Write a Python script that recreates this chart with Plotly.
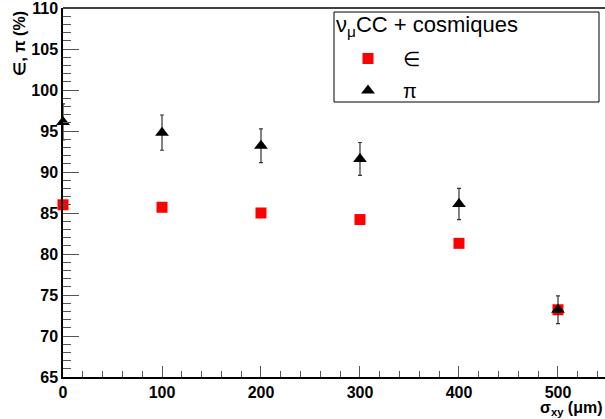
import plotly.graph_objects as go

sigma_xy = [0, 100, 200, 300, 400, 500]
eff = [86.0, 85.7, 85.0, 84.2, 81.3, 73.2]
pur = [96.1, 94.8, 93.2, 91.6, 86.1, 73.2]
pur_err = [2.2, 2.15, 2.05, 2.0, 1.9, 1.7]

FONT = "Liberation Sans, Arial, Helvetica, sans-serif"

fig = go.Figure()
fig.add_trace(go.Scatter(
    x=sigma_xy, y=eff, mode="markers", name="∈", legendgroup="a",
    marker=dict(symbol="square", size=11, color="#ff0000", line=dict(width=0)),
    cliponaxis=False,
))
fig.add_trace(go.Scatter(
    x=sigma_xy, y=pur, mode="markers", name="π", legendgroup="b",
    marker=dict(symbol="triangle-up", size=12, color="black", line=dict(width=0)),
    error_y=dict(type="data", array=pur_err, visible=True, color="#333333", thickness=1.2, width=2),
    cliponaxis=False,
))

fig.update_layout(
    width=605, height=419,
    margin=dict(l=63, r=0, t=8, b=42, autoexpand=False),
    paper_bgcolor="white", plot_bgcolor="white",
    showlegend=True,
    legend=dict(
        x=(333 - 63) / 542, y=(377 - 39) / 369, xanchor="left", yanchor="top",
        bgcolor="rgba(0,0,0,0)", borderwidth=0,
        font=dict(family=FONT, size=20, color="black"),
        itemwidth=60, tracegroupgap=3,
    ),
    xaxis=dict(
        range=[0, 547.5], showgrid=False, zeroline=False, automargin=False,
        showline=True, linecolor="black", linewidth=1.5,
        tickmode="array", tickvals=sigma_xy, ticktext=[str(v) for v in sigma_xy],
        ticks="inside", ticklen=11, tickcolor="#555555", tickwidth=1,
        tickfont=dict(family=FONT, size=16, color="black", weight="bold"),
        ticklabeloverflow="allow",
        minor=dict(dtick=20, tick0=0, ticks="inside", ticklen=6, tickcolor="#555555", tickwidth=1),
    ),
    yaxis=dict(
        range=[65, 110], showgrid=False, zeroline=False, automargin=False,
        showline=True, linecolor="black", linewidth=1.5,
        tickmode="array", tickvals=[65, 70, 75, 80, 85, 90, 95, 100, 105, 110],
        ticks="inside", ticklen=16, tickcolor="#555555", tickwidth=1,
        tickfont=dict(family=FONT, size=16, color="black", weight="bold"),
        ticklabeloverflow="allow",
        minor=dict(dtick=1, tick0=65, ticks="inside", ticklen=8, tickcolor="#555555", tickwidth=1),
    ),
    shapes=[
        dict(type="line", xref="paper", yref="paper", x0=0, x1=1, y0=1, y1=1,
             line=dict(color="black", width=1.5)),
        dict(type="rect", xref="paper", yref="paper",
             x0=(334 - 63) / 542, x1=(599 - 63) / 542,
             y0=(377 - 102) / 369, y1=(377 - 12) / 369,
             line=dict(color="black", width=1), fillcolor="rgba(0,0,0,0)"),
    ],
    annotations=[
        dict(text="ν<sub>μ</sub>CC + cosmiques", xref="paper", yref="paper",
             x=(334 - 63) / 542, y=(377 - 26) / 369, xanchor="left", yanchor="middle",
             showarrow=False, font=dict(family=FONT, size=22, color="black")),
        dict(text="∈, π (%)", xref="paper", yref="paper", x=0, y=1,
             xanchor="right", yanchor="top", xshift=-34, yshift=-2, textangle=-90,
             showarrow=False, font=dict(family=FONT, size=16, color="black", weight="bold")),
        dict(text="σ<sub>xy</sub> (μm)", xref="paper", yref="paper", x=1, y=0,
             xanchor="right", yanchor="top", xshift=0, yshift=-20,
             showarrow=False, font=dict(family=FONT, size=16, color="black", weight="bold")),
    ],
)

fig.write_html("out.html", config={"displayModeBar": False},
               post_script="document.body.style.margin='0';document.body.style.overflow='hidden';")
